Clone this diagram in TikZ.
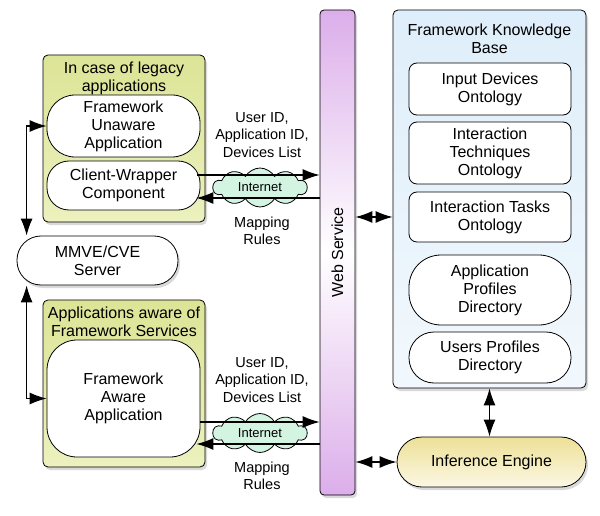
\documentclass[tikz,border=0pt]{standalone}
\usepackage{fontspec}
\setmainfont{Liberation Sans}
\usetikzlibrary{arrows.meta,shapes.symbols,shadows}
\definecolor{appgreen}{RGB}{220,228,150}
\definecolor{appgreenlight}{RGB}{236,241,190}
\definecolor{wspurple}{RGB}{220,174,234}
\definecolor{kbblue}{RGB}{222,238,250}
\definecolor{cloudgreen}{RGB}{212,244,226}
\definecolor{infyellow}{RGB}{238,224,150}

\begin{document}
\begin{tikzpicture}[x=1pt, y=-1pt, line width=0.8pt, >={Latex[length=17pt,width=12pt]},
    every node/.style={font=\fontsize{16}{18}\selectfont, align=center},
    shade/.style={drop shadow={shadow xshift=2pt, shadow yshift=-3pt, opacity=0.3}},
    group/.style={draw, rounded corners=5pt, top color=appgreen, bottom color=appgreenlight, minimum width=162pt, minimum height=167pt, shade},
    pill/.style={draw, fill=white, minimum width=153pt, inner sep=0pt},
    onto/.style={draw, fill=white, rounded corners=8pt, minimum width=162pt, inner sep=0pt},
    net/.style={draw, cloud, cloud puffs=10, cloud puff arc=120, cloud ignores aspect, fill=cloudgreen, minimum width=94pt, minimum height=39pt, inner sep=0pt, font=\fontsize{13}{15}\selectfont},
    msg/.style={font=\fontsize{14.5}{17.5}\selectfont},
    flow/.style={line width=1.2pt}]
    \useasboundingbox (0,0) rectangle (600,516);

    \node[group](legacy) at (124,138.5){};
    \node(legacytitle) at (124,78){In case of legacy\\applications};
    \node[pill, rounded corners=28pt, minimum height=62pt](fua) at (123.5,126){Framework\\Unaware\\Application};
    \node[pill, rounded corners=22pt, minimum height=49pt](cw) at (123.5,185.5){Client-Wrapper\\Component};

    \node[pill, rounded corners=24pt, minimum width=161pt, minimum height=49pt, shade](mmve) at (97.5,260.5){MMVE/CVE\\Server};

    \node[group](aware) at (124,383.5){};
    \node(awaretitle) at (124,322){Applications aware of\\Framework Services};
    \node[pill, rounded corners=30pt, minimum height=117pt](faa) at (123.5,398.5){Framework\\Aware\\Application};

    \node[draw, rounded corners=4pt, minimum width=35pt, minimum height=485pt, top color=wspurple, bottom color=wspurple, middle color=white, shade](ws) at (337.5,252.5){};
    \node[rotate=90](wstitle) at (ws.center){Web Service};

    \node[net](net1) at (260,187.5){Internet};
    \node[net](net2) at (260,433){Internet};

    \node[msg](ids1) at (262,135){User ID,\\Application ID,\\Devices List};
    \node[msg](rules1) at (262,231){Mapping\\Rules};
    \node[msg](ids2) at (262,380){User ID,\\Application ID,\\Devices List};
    \node[msg](rules2) at (262,476){Mapping\\Rules};

    \node[draw, rounded corners=5pt, minimum width=193pt, minimum height=378pt, top color=kbblue, bottom color=kbblue!40, shade](kb) at (489.5,199){};
    \node(kbtitle) at (489.5,39){Framework Knowledge\\Base};
    \node[onto, minimum height=52pt](idev) at (490,89){Input Devices\\Ontology};
    \node[onto, minimum height=62pt](itech) at (490,153){Interaction\\Techniques\\Ontology};
    \node[onto, minimum height=50pt](itask) at (490,217){Interaction Tasks\\Ontology};
    \node[onto, rounded corners=32pt, minimum height=70pt](appdir) at (490,290){Application\\Profiles\\Directory};
    \node[onto, rounded corners=25pt, minimum height=51pt](userdir) at (490,357.5){Users Profiles\\Directory};

    \node[draw, rounded corners=25pt, minimum width=189pt, minimum height=50pt, top color=infyellow, bottom color=infyellow!25, shade](inf) at (491.5,462){Inference Engine};

    \coordinate(out1) at ([xshift=-3pt, yshift=10.5pt]cw.east);
    \coordinate(in1) at ([xshift=-4pt, yshift=-12.5pt]cw.east);
    \coordinate(out2) at ([yshift=-23.5pt]faa.east);
    \coordinate(in2) at ([xshift=-4pt, yshift=-45.5pt]faa.east);

    \draw[flow, ->](out1)--(out1-|ws.west);
    \draw[flow, <-](in1)--(in1-|ws.west);
    \draw[flow, ->](out2)--(out2-|ws.west);
    \draw[flow, <-](in2)--(in2-|ws.west);

    \draw[flow, <->](fua.west)-|([xshift=10pt]mmve.north west);
    \draw[flow, <->]([xshift=10pt]mmve.south west)|-(faa.west);

    \draw[flow, <->](ws.east|-itask)--(kb.west|-itask);
    \draw[flow, <->](ws.east|-inf)--(inf.west);
    \draw[flow, <->](kb.south)--(kb.south|-inf.north);
  \end{tikzpicture}
\end{document}
